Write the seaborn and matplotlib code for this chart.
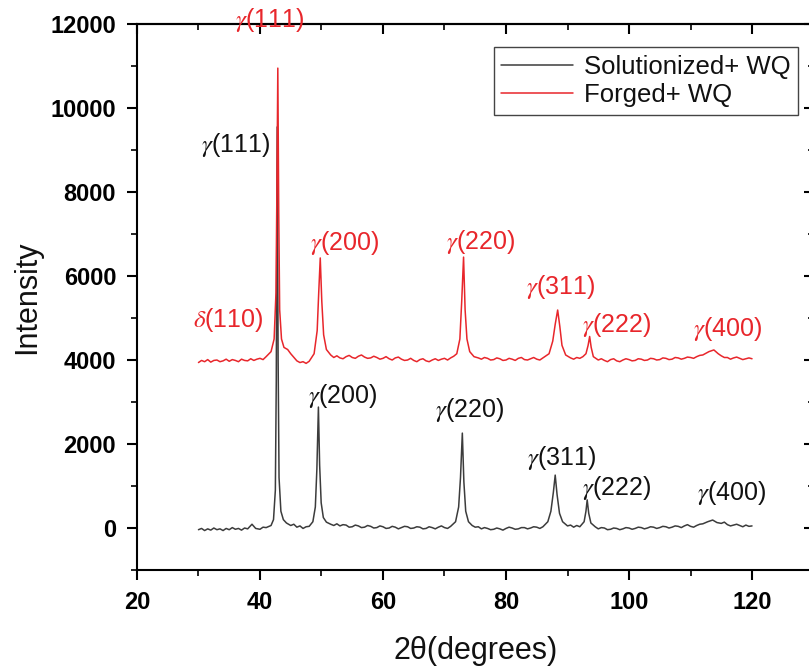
import pandas as pd
import matplotlib
matplotlib.use('Agg')
import matplotlib.pyplot as plt
from matplotlib.ticker import MultipleLocator
import seaborn as sns

# XRD patterns (2theta in degrees, intensity in counts)
solutionized_2theta = [30, 30.5, 31, 31.5, 32, 32.5, 33, 33.5, 34, 34.5, 35, 35.5, 36, 36.5, 37, 37.5,
                       38, 38.7, 39.3, 40, 40.5, 41,
                       41.8, 42.2, 42.5, 42.65, 42.8, 42.95, 43.1, 43.4, 43.8, 44.3, 45, 45.5, 46, 46.5,
                       47, 47.5, 48,
                       48.6, 49.0, 49.25, 49.5, 49.7, 49.95, 50.3, 50.8, 51.5, 52, 52.5, 53, 53.5, 54,
                       54.5, 55, 55.5, 56, 56.5, 57, 57.5, 58, 58.5, 59, 59.5, 60, 60.5, 61, 61.5, 62,
                       62.5, 63, 63.5, 64, 64.5, 65, 65.5, 66, 66.5, 67, 67.5, 68, 68.5, 69, 69.5, 70,
                       70.5, 71,
                       71.8, 72.3, 72.6, 72.9, 73.15, 73.45, 73.9, 74.5, 75, 75.5, 76, 76.5, 77, 77.5,
                       78, 78.5, 79, 79.5, 80, 80.5, 81, 81.5, 82, 82.5, 83, 83.5, 84, 84.5, 85, 85.5, 86,
                       86.8, 87.3, 87.7, 88.0, 88.3, 88.7, 89.2, 90, 90.5, 91, 91.5, 92,
                       92.7, 93.0, 93.2, 93.45, 93.8, 94.5, 95, 95.5, 96, 96.5, 97, 97.5, 98, 98.5, 99,
                       99.5, 100, 100.5, 101, 101.5, 102, 102.5, 103, 103.5, 104, 104.5, 105, 105.5, 106,
                       106.5, 107, 107.5, 108, 108.5, 109, 109.5, 110, 110.5, 111, 111.5, 112,
                       112.8, 113.6, 114.3, 115, 115.5, 116, 116.5, 117, 117.5, 118, 118.5, 119, 119.5, 120]
solutionized_int = [-40, -10, -60, -20, -50, 0, -40, -20, -60, -10, -40, 10, -30, -10, -50, 0,
                    -20, 90, -10, -30, 20, 10,
                    60, 200, 900, 3500, 9550, 4000, 1200, 400, 200, 120, 60, 90, 20, 50,
                    -10, 30, 40,
                    150, 500, 1400, 2880, 1500, 600, 250, 140, 90, 60, 100, 50, 80, 70,
                    20, 30, 70, 50, 10, 20, 60, 40, 0, 10, 50, 30, -10, 0, 40, 20,
                    -20, 10, 40, 30, -10, 0, 30, 20, -20, -10, 30, 10, -20, 20, 50, 10,
                    -10, 40,
                    150, 500, 1200, 2260, 1100, 400, 150, 60, 20, 30, -20, 10, -10, -40,
                    -30, 0, -20, -50, -10, 20, 0, -30, -20, 10, 10, -20, 0, 30, 20, -10, 30,
                    150, 400, 850, 1260, 800, 350, 150, 50, 70, 20, 60, 30,
                    150, 400, 670, 350, 120, 30, -20, 10, 0, -40, -30, 0, -10, -40, -20,
                    10, 0, -30, -10, 20, 10, -20, 0, 30, 20, -10, 10, 40, 30,
                    0, 20, 50, 40, 10, 50, 80, 40, 20, 60, 90, 100,
                    150, 190, 130, 110, 140, 80, 50, 70, 90, 60, 30, 70, 40, 50]

forged_2theta = [30, 30.5, 31, 31.5, 32, 32.5, 33, 33.5, 34, 34.5, 35, 35.5, 36, 36.5, 37, 37.5,
                 38, 38.5, 39, 39.5, 40, 40.5, 41,
                 41.8, 42.3, 42.6, 42.75, 42.9, 43.05, 43.2, 43.5, 43.9, 44.5, 45, 45.6, 46, 46.5, 47,
                 47.5, 48,
                 48.8, 49.3, 49.55, 49.8, 50.05, 50.35, 50.8, 51.5, 52, 52.5, 53, 53.5, 54, 54.5, 55,
                 55.5, 56, 56.5, 57, 57.5, 58, 58.5, 59, 59.5, 60, 60.5, 61, 61.5, 62, 62.5, 63, 63.5,
                 64, 64.5, 65, 65.5, 66, 66.5, 67, 67.5, 68, 68.5, 69, 69.5, 70, 70.5, 71, 71.5, 72,
                 72.5, 72.8, 73.1, 73.35, 73.65, 74.1, 74.8, 75.5, 76, 76.5, 77, 77.5, 78, 78.5, 79,
                 79.5, 80, 80.5, 81, 81.5, 82, 82.5, 83, 83.5, 84, 84.5, 85, 85.5, 86, 86.5, 87,
                 87.6, 88.0, 88.4, 88.75, 89.1, 89.7, 90.5, 91, 91.5, 92, 92.5, 93,
                 93.35, 93.6, 93.85, 94.2, 95, 95.5, 96, 96.5, 97, 97.5, 98, 98.5, 99, 99.5, 100,
                 100.5, 101, 101.5, 102, 102.5, 103, 103.5, 104, 104.5, 105, 105.5, 106, 106.5, 107,
                 107.5, 108, 108.5, 109, 109.5, 110, 110.5, 111, 111.5, 112, 112.5, 113, 113.8,
                 114.5, 115, 115.5, 116, 116.5, 117, 117.5, 118, 118.5, 119, 119.5, 120]
forged_int = [3940, 3990, 3960, 4010, 3950, 3990, 4000, 3960, 3980, 4020, 3970, 4010, 3990, 3960, 4020, 3990,
              3980, 4030, 3990, 4020, 4040, 4010, 4080,
              4200, 4500, 5600, 8000, 10950, 7500, 5200, 4500, 4300, 4250, 4150, 4050, 3980, 3940, 3960,
              3920, 3970,
              4150, 4700, 5600, 6430, 5400, 4600, 4250, 4120, 4060, 4100, 4050, 4030, 4080, 4110, 4060,
              4040, 4090, 4120, 4070, 4040, 4050, 4090, 4060, 4020, 4040, 4080, 4030, 4000, 4050, 4070,
              4020, 3990, 4000, 4040, 3990, 3960, 4010, 4030, 3980, 3960, 4000, 4030, 3990, 4020, 4040,
              4000, 4050, 4090, 4150,
              4500, 5400, 6450, 5200, 4500, 4200, 4080, 4050, 4020, 4060, 4040, 4000, 4010, 4050, 4030,
              3990, 4000, 4040, 4020, 3990, 4040, 4060, 4010, 4000, 4030, 4060, 4020, 4000, 4050,
              4100, 4150,
              4450, 4850, 5190, 4800, 4350, 4120, 4050, 4020, 4060, 4040, 4080, 4150,
              4350, 4560, 4300, 4080, 4000, 4030, 3990, 3960, 4010, 4030, 3980, 3960, 4000, 4030, 4010,
              3980, 3990, 4030, 4020, 3990, 4000, 4040, 4030, 4000, 4010, 4050, 4040, 4010, 4020,
              4060, 4050, 4020, 4040, 4070, 4060, 4040, 4080, 4110, 4120, 4160, 4200, 4240,
              4150, 4100, 4060, 4060, 4020, 4050, 4070, 4040, 4010, 4030, 4050, 4030]

# peak labels (text, x, y)
forged_labels = [r'$\gamma$(111)', r'$\delta$(110)', r'$\gamma$(200)', r'$\gamma$(220)',
                 r'$\gamma$(311)', r'$\gamma$(222)', r'$\gamma$(400)']
forged_label_x = [41.6, 34.8, 53.8, 75.9, 88.8, 98.0, 116.1]
forged_label_y = [12100, 4950, 6780, 6810, 5740, 4830, 4740]

solutionized_labels = [r'$\gamma$(111)', r'$\gamma$(200)', r'$\gamma$(220)',
                       r'$\gamma$(311)', r'$\gamma$(222)', r'$\gamma$(400)']
solutionized_label_x = [36.1, 53.5, 74.1, 89.1, 97.9, 116.7]
solutionized_label_y = [9115, 3140, 2810, 1670, 950, 830]

black_col = '#3c3c3c'
red_col = '#e8262b'

sns.set_style('ticks')
plt.rcParams['font.family'] = ['Liberation Sans', 'DejaVu Sans']
plt.rcParams['mathtext.fontset'] = 'stix'

sol = pd.DataFrame({'two_theta': solutionized_2theta, 'intensity': solutionized_int})
forg = pd.DataFrame({'two_theta': forged_2theta, 'intensity': forged_int})

fig = plt.figure(figsize=(8.09, 6.67), dpi=100)
ax = fig.add_axes([0.1693, 0.1454, 0.8363, 0.8186])

sns.lineplot(data=sol, x='two_theta', y='intensity', color=black_col, lw=1.1,
             estimator=None, sort=False, label='Solutionized+ WQ', ax=ax)
sns.lineplot(data=forg, x='two_theta', y='intensity', color=red_col, lw=1.1,
             estimator=None, sort=False, label='Forged+ WQ', ax=ax)

ax.set_xlim(20, 130)
ax.set_ylim(-1000, 12000)
ax.xaxis.set_major_locator(MultipleLocator(20))
ax.xaxis.set_minor_locator(MultipleLocator(10))
ax.yaxis.set_major_locator(MultipleLocator(2000))
ax.yaxis.set_minor_locator(MultipleLocator(1000))

# outward ticks on bottom and left
ax.tick_params(which='major', direction='out', length=7, width=1.5, labelsize=17,
               colors='black', pad=8)
ax.tick_params(which='minor', direction='out', length=4, width=1.2, colors='black')
for lab in ax.get_xticklabels() + ax.get_yticklabels():
    lab.set_fontweight('bold')
for sp in ax.spines.values():
    sp.set_linewidth(1.5)
    sp.set_color('black')
    sp.set_visible(True)

# inward ticks on top and right
top = ax.secondary_xaxis('top')
top.xaxis.set_major_locator(MultipleLocator(20))
top.xaxis.set_minor_locator(MultipleLocator(10))
top.tick_params(which='major', direction='in', length=7, width=1.5, labeltop=False, colors='black')
top.tick_params(which='minor', direction='in', length=4, width=1.2, colors='black')
top.spines['top'].set_linewidth(1.5)
top.spines['top'].set_color('black')
right = ax.secondary_yaxis('right')
right.yaxis.set_major_locator(MultipleLocator(2000))
right.yaxis.set_minor_locator(MultipleLocator(1000))
right.tick_params(which='major', direction='in', length=7, width=1.5, labelright=False, colors='black')
right.tick_params(which='minor', direction='in', length=4, width=1.2, colors='black')
right.spines['right'].set_linewidth(1.5)
right.spines['right'].set_color('black')

ax.set_xlabel('2\u03b8(degrees)', fontsize=22, labelpad=16, color='#111111')
ax.set_ylabel('Intensity', fontsize=22, labelpad=6, color='#111111')

for t, x, y in zip(forged_labels, forged_label_x, forged_label_y):
    ax.text(x, y, t, color=red_col, fontsize=18, ha='center', va='center')
for t, x, y in zip(solutionized_labels, solutionized_label_x, solutionized_label_y):
    ax.text(x, y, t, color='#111111', fontsize=18, ha='center', va='center')

leg = ax.legend(loc='upper right', bbox_to_anchor=(0.977, 0.957), fontsize=18.5,
                frameon=True, fancybox=False, edgecolor='#444444', framealpha=1,
                handlelength=2.8, handletextpad=0.4, borderpad=0.3, labelspacing=0.15,
                borderaxespad=0)
leg.get_frame().set_linewidth(1.0)
for txt in leg.get_texts():
    txt.set_color('#111111')

fig.savefig('out.png', dpi=100)
